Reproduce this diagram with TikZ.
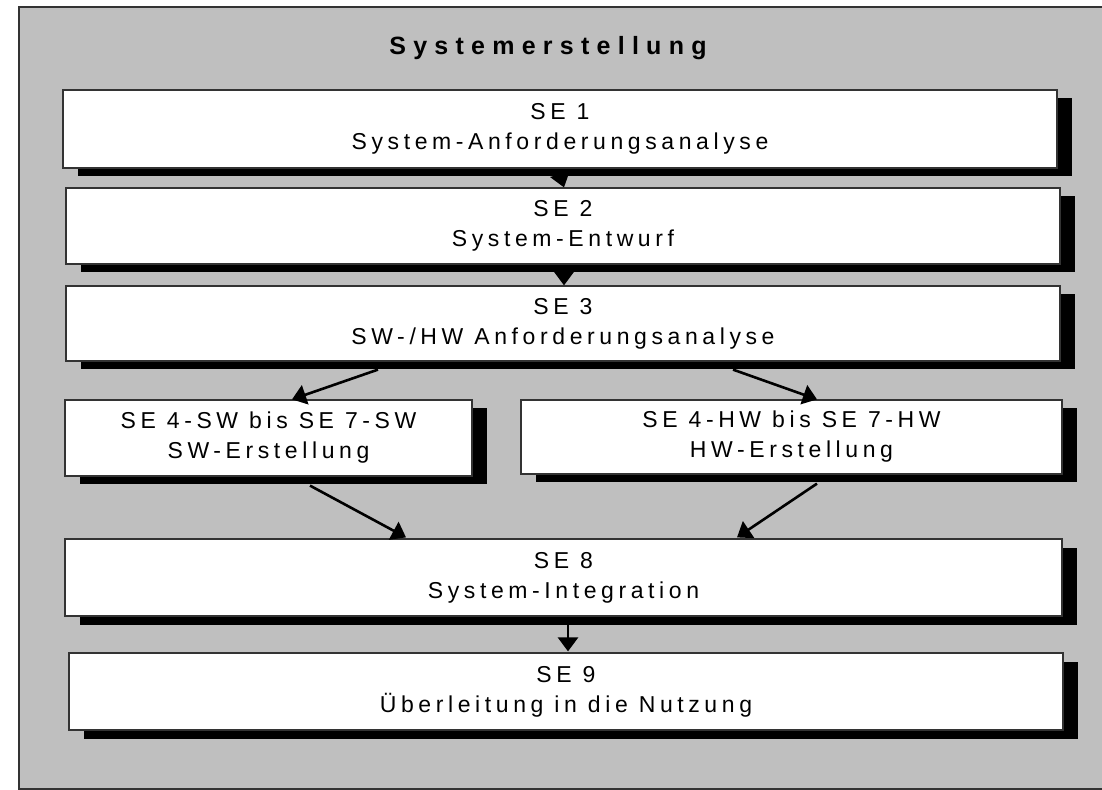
\documentclass[tikz,border=0pt]{standalone}
\usepackage{fontspec}
\setmainfont{Liberation Sans}
\newfontfamily\stagefont[LetterSpace=20]{Liberation Sans}
\newfontfamily\headfont[LetterSpace=29]{Liberation Sans}
\usetikzlibrary{shadows,arrows.meta}

\begin{document}
\begin{tikzpicture}[x=0.5pt,y=-0.5pt]

  \tikzstyle{stage}=[draw=black!80,fill=white,line width=0.6pt,inner sep=0pt,align=center,
    font=\stagefont\fontsize{11.5}{15}\selectfont,
    drop shadow={shadow xshift=7.5pt,shadow yshift=-4.25pt,fill=black,opacity=1}]
  \tikzstyle{arr}=[line width=1.3pt,-{Triangle[length=7pt,width=10pt]}]

  \useasboundingbox (0,0) rectangle (1102,790);
  \draw[fill=black!25,draw=black!80,line width=0.6pt] (19,7) rectangle (1120,789);

  \node[anchor=base,font=\headfont\bfseries\fontsize{12.5}{14}\selectfont] (title) at (548,55) {Systemerstellung};

  \node[stage,minimum width=497pt,minimum height=39pt] (se1) at (560,129) {SE 1\\System-Anforderungsanalyse};
  \node[stage,minimum width=497pt,minimum height=38pt] (se2) at (563,226) {SE 2\\System-Entwurf};
  \node[stage,minimum width=497pt,minimum height=37.5pt] (se3) at (563,323.5) {SE 3\\SW-/HW Anforderungsanalyse};
  \node[stage,minimum width=203.5pt,minimum height=38pt] (sw) at (268.5,438) {SE 4-SW bis SE 7-SW\\SW-Erstellung};
  \node[stage,minimum width=270.5pt,minimum height=37pt] (hw) at (791.5,437) {SE 4-HW bis SE 7-HW\\HW-Erstellung};
  \node[stage,minimum width=498.5pt,minimum height=38.5pt] (se8) at (563.5,577.5) {SE 8\\System-Integration};
  \node[stage,minimum width=497pt,minimum height=38.5pt] (se9) at (566,691.5) {SE 9\\Überleitung in die Nutzung};

  \draw[arr] ([shift={(1,9)}]se1.south) -- ([shift={(1,0)}]se2.north);
  \draw[arr] ([shift={(1,9)}]se2.south) -- ([shift={(1,0)}]se3.north);
  \draw[arr] ([shift={(-185,8)}]se3.south) -- ([shift={(23.5,0)}]sw.north);
  \draw[arr] ([shift={(170,8)}]se3.south) -- ([shift={(25.5,0)}]hw.north);
  \draw[arr] ([shift={(41.5,9)}]sw.south) -- ([shift={(-157.5,-1)}]se8.north);
  \draw[arr] ([shift={(25.5,9)}]hw.south) -- ([shift={(173.5,-1)}]se8.north);
  \draw[arr] ([shift={(4.5,8)}]se8.south) -- ([shift={(2,-1)}]se9.north);

\end{tikzpicture}
\end{document}
